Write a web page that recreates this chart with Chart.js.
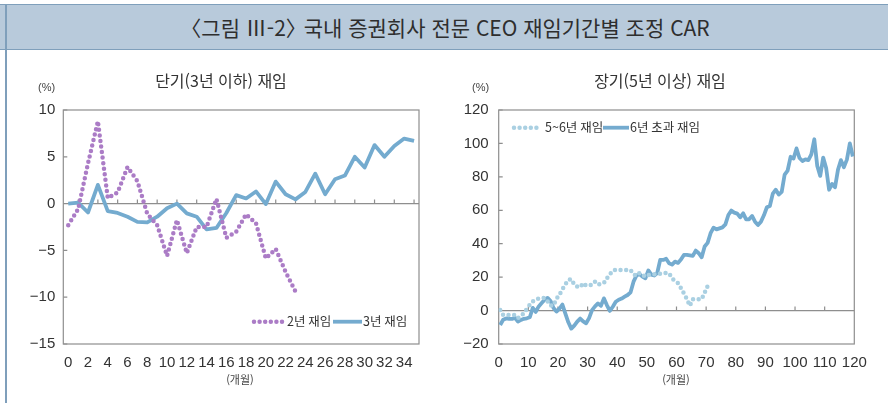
<!DOCTYPE html>
<html lang="ko">
<head>
<meta charset="utf-8">
<script src="https://cdn.jsdelivr.net/npm/chart.js@4.4.1/dist/chart.umd.min.js"></script>
<style>
  html, body { margin:0; padding:0; background:#fff; }
  #page { position:relative; width:888px; height:403px; overflow:hidden; background:#fff;
          font-family:"Noto Sans CJK KR","Noto Sans",sans-serif; color:#333; }
  #banner { position:absolute; left:0; top:4px; width:888px; height:44px; background:#b8cadb;
            border-top:1px solid #7f9fbb; border-bottom:1px solid #7f9fbb; }
  #banner div { position:absolute; left:0; width:888px; top:0; height:44px; line-height:44px;
                text-align:center; font-size:21px; color:#2e2e2e; padding-left:2px; box-sizing:border-box; }
  #banner .rb { margin-right:-9px; }
  #lbar { position:absolute; left:5px; top:4px; width:2px; height:399px; background:#7f9fbb; }
  .sub { position:absolute; top:68px; font-size:16px; color:#333; white-space:nowrap; transform:translateX(-50%); }
  .unit { position:absolute; top:81px; font-size:11px; color:#444; white-space:nowrap; font-family:"Liberation Sans","Noto Sans CJK KR",sans-serif; }
  .xl { position:absolute; top:371px; font-size:11px; color:#444; white-space:nowrap; transform:translateX(-50%); }
  .box { position:absolute; top:0; width:444px; height:403px; }
</style>
</head>
<body>
<div id="page">
  <div id="banner"><div>〈그림 Ⅲ-2<span class="rb">〉</span> 국내 증권회사 전문 CEO 재임기간별 조정 CAR</div></div>
  <div id="lbar"></div>
  <div class="box" style="left:0"><canvas id="c1"></canvas></div>
  <div class="box" style="left:444px"><canvas id="c2"></canvas></div>
  <div class="sub" style="left:221px">단기(3년 이하) 재임</div>
  <div class="sub" style="left:660px">장기(5년 이상) 재임</div>
  <div class="unit" style="left:38px">(%)</div>
  <div class="unit" style="left:472px">(%)</div>
  <div class="xl" style="left:240px">(개월)</div>
  <div class="xl" style="left:676px">(개월)</div>
</div>
<script>
// ---------- data ----------
// Left: short tenure (months 0..35)
const shortTickLabels = ['0','2','4','6','8','10','12','14','16','18','20','22','24','26','28','30','32','34'];
const twoYear = [-2.3, -0.6, 4.3, 8.8, 0.6, 1.2, 3.9, 2.4, -1.1, -2.3, -5.6, -1.75, -5.3, -2.5, -2.5, 0.5,
                 -3.65, -3.0, -1.15, -2.1, -5.85, -4.85, -7.3, -9.4];
const threeYear = [0, 0.1, -0.95, 2.0, -0.8, -1.0, -1.4, -1.95, -2.0, -1.4, -0.5, 0, -1.05, -1.4, -2.75, -2.6,
                   -1.0, 0.9, 0.55, 1.3, -0.05, 2.35, 1.0, 0.45, 1.25, 3.2, 1.0, 2.6, 3.0, 5.0, 3.85, 6.25,
                   5.0, 6.15, 6.95, 6.7];
const shortLabels = ['2년 재임', '3년 재임'];

// Right: long tenure (months 0..119)
const longTickLabels = ['0','10','20','30','40','50','60','70','80','90','100','110','120'];
const fiveSix = [0.4, -2.6, -2.6, -2.6, -2.6, -2.6, -4.4, -3.5, -1.5, 1.0,
                 3.5, 5.5, 6.5, 7.3, 7.5, 7.5, 5.5, 3.0, 3.0, 7.0,
                 9.5, 12.7, 15.7, 18.3, 18.8, 15.5, 14.3, 14.0, 16.5, 15.0,
                 14.9, 15.5, 17.3, 15.5, 16.0, 16.5, 19.3, 21.7, 24.0, 24.3,
                 24.3, 24.3, 24.3, 24.3, 24.3, 21.7, 20.8, 22.5, 21.5, 20.3,
                 21.3, 21.5, 21.7, 21.9, 22.1, 22.3, 22.5, 22.3, 19.3, 17.5,
                 16.5, 13.5, 10.3, 6.9, 2.8, 6.8, 6.8, 6.8, 6.8, 10.7,
                 14.7];
const overSix = [-8.6, -5.5, -4.7, -4.9, -5.0, -4.3, -6.6, -5.6, -4.9, -4.6,
                 -4.0, 1.6, -0.8, 2.5, 4.5, 6.5, 7.6, 5.7, 1.5, -0.6,
                 1.2, 3.6, -1.8, -7.0, -10.8, -9.0, -6.6, -4.8, -6.5, -7.6,
                 -4.5, 0.3, 2.5, 4.3, 2.9, 7.3, 3.3, -0.2, 2.3, 5.3,
                 6.5, 7.2, 8.3, 9.3, 10.9, 17.3, 21.0, 21.8, 20.3, 19.3,
                 24.0, 21.5, 21.0, 22.5, 30.3, 30.3, 31.0, 28.3, 27.5, 29.3,
                 28.5, 30.5, 33.3, 33.3, 33.0, 32.7, 35.9, 34.3, 31.9, 38.3,
                 40.5, 46.3, 49.6, 48.6, 49.2, 49.8, 51.6, 57.2, 59.8, 58.6,
                 58.0, 55.8, 58.2, 54.6, 54.6, 56.6, 53.2, 51.2, 53.2, 57.0,
                 61.8, 62.6, 70.0, 72.3, 69.4, 71.0, 81.4, 83.8, 92.0, 91.0,
                 97.0, 91.3, 89.5, 90.5, 90.0, 93.5, 102.5, 86.5, 80.6, 91.5,
                 85.3, 72.3, 75.8, 73.8, 84.3, 90.0, 85.8, 90.3, 100.0, 92.2];
const longLabels = ['5~6년 재임', '6년 초과 재임'];

// ---------- styling ----------
const NUM_FONT = '"Liberation Sans Narrow","Liberation Sans","Noto Sans CJK KR",sans-serif';
const KR_FONT = '"Noto Sans CJK KR","Noto Sans",sans-serif';
const BLUE = '#74abcf', PURPLE = '#ab7cc6', LIGHT = '#aad0e2', FRAME = '#8e8e8e';

const framePlugin = {
  id: 'frame',
  beforeDatasetsDraw(chart, args, o) {
    const { ctx, chartArea: a, scales: { x, y } } = chart;
    ctx.save();
    ctx.strokeStyle = FRAME; ctx.lineWidth = 1.2;
    ctx.strokeRect(a.left, a.top, a.right - a.left, a.bottom - a.top);
    const y0 = y.getPixelForValue(0);
    ctx.beginPath();
    ctx.moveTo(a.left, y0); ctx.lineTo(a.right, y0);
    o.xMarks.forEach(v => { const px = x.getPixelForValue(v); ctx.moveTo(px, y0); ctx.lineTo(px, y0 - 4); });
    y.ticks.forEach(t => { const py = y.getPixelForValue(t.value); ctx.moveTo(a.left, py); ctx.lineTo(a.left + 4, py); });
    ctx.stroke();
    ctx.restore();
  },
  afterDraw(chart, args, o) {
    const ctx = chart.ctx;
    ctx.save();
    o.legend.forEach((it, k) => {
      const ds = chart.data.datasets[k];
      ctx.beginPath();
      ctx.strokeStyle = ds.borderColor;
      ctx.lineWidth = ds.borderWidth;
      ctx.lineCap = ds.borderDash ? 'round' : 'butt';
      ctx.setLineDash(ds.borderDash || []);
      ctx.moveTo(it.x0, o.legendY); ctx.lineTo(it.x1, o.legendY);
      ctx.stroke();
      ctx.setLineDash([]);
      ctx.fillStyle = '#333';
      ctx.font = '12.5px ' + KR_FONT;
      ctx.textBaseline = 'middle';
      ctx.textAlign = 'left';
      ctx.fillText(ds.label, it.tx, o.legendY);
    });
    ctx.restore();
  }
};

function dotted(label, values, color, xShift) {
  return { label, data: values.map((v, i) => ({ x: i + xShift, y: v })), borderColor: color,
           borderWidth: 4.5, borderDash: [0, 5.6], borderCapStyle: 'round', pointRadius: 0,
           tension: 0, fill: false };
}
function solid(label, values, color, xShift) {
  return { label, data: values.map((v, i) => ({ x: i + xShift, y: v })), borderColor: color,
           borderWidth: 3.8, borderJoinStyle: 'round', pointRadius: 0, tension: 0, fill: false };
}
const minusFmt = v => (v < 0 ? '\u2212' + Math.abs(v) : String(v));

function makeChart(id, cfg) {
  return new Chart(document.getElementById(id), {
    type: 'line',
    data: { datasets: cfg.datasets },
    options: {
      responsive: true, maintainAspectRatio: false, animation: false, devicePixelRatio: 1,
      layout: { padding: { left: 0, right: cfg.padRight, top: 110, bottom: 0 } },
      plugins: { legend: { display: false }, tooltip: { enabled: false },
                 frame: { xMarks: cfg.xMarks, legend: cfg.legend, legendY: cfg.legendY } },
      scales: {
        x: { type: 'linear', min: cfg.xMin, max: cfg.xMax,
             grid: { display: false, drawTicks: false }, border: { display: false },
             afterFit: s => { s.height = 59; },
             afterBuildTicks: cfg.xTicks,
             ticks: { padding: 10, color: '#333', font: { family: NUM_FONT, size: 15 },
                      maxRotation: 0, autoSkip: false, callback: v => String(v) } },
        y: { min: cfg.yMin, max: cfg.yMax,
             grid: { display: false, drawTicks: false }, border: { display: false },
             afterFit: s => { s.width = cfg.yWidth; },
             ticks: { stepSize: cfg.yStep, padding: cfg.yPad, color: '#333',
                      font: { family: NUM_FONT, size: 15 }, callback: minusFmt } }
      }
    },
    plugins: [framePlugin]
  });
}

// Left chart
const oddMarks = [];
for (let v = 1; v <= 35; v += 2) oddMarks.push(v);
makeChart('c1', {
  datasets: [dotted(shortLabels[0], twoYear, PURPLE, 0), solid(shortLabels[1], threeYear, BLUE, 0)],
  xMin: -0.5, xMax: 35.5,
  xTicks: s => { s.ticks = shortTickLabels.map(l => ({ value: Number(l) })); },
  xMarks: oddMarks,
  yMin: -15, yMax: 10, yStep: 5, yWidth: 63.3, yPad: 8, padRight: 25,
  legendY: 321.7,
  legend: [{ x0: 254, x1: 282, tx: 287 }, { x0: 333, x1: 362, tx: 363 }]
});

// Right chart (monthly points sit at category centres)
const tenMarks = [];
for (let v = 10; v <= 110; v += 10) tenMarks.push(v);
makeChart('c2', {
  datasets: [dotted(longLabels[0], fiveSix, LIGHT, 0.5), solid(longLabels[1], overSix, BLUE, 0.5)],
  xMin: 0, xMax: 120,
  xTicks: s => { s.ticks = longTickLabels.map(l => ({ value: Number(l) })); },
  xMarks: tenMarks,
  yMin: -20, yMax: 120, yStep: 20, yWidth: 54.7, yPad: 10, padRight: 33.7,
  legendY: 127.7,
  legend: [{ x0: 70, x1: 96, tx: 101 }, { x0: 159, x1: 185, tx: 186 }]
});
</script>
</body>
</html>
